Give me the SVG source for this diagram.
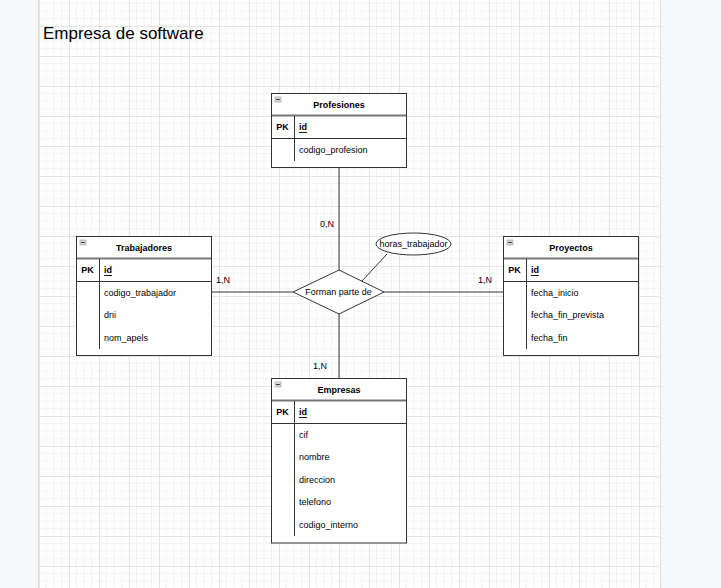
<svg xmlns="http://www.w3.org/2000/svg" width="721" height="588" viewBox="0 0 721 588">
  <defs>
    <pattern id="grid" patternUnits="userSpaceOnUse" x="39" y="-4" width="30" height="30">
      <rect width="30" height="30" fill="#ffffff"/>
      <path d="M7.5 0V30M15 0V30M22.5 0V30M0 7.5H30M0 15H30M0 22.5H30" stroke="#f3f3f3" stroke-width="1" fill="none"/>
      <path d="M0.5 0V30M0 0.5H30" stroke="#e4e4e4" stroke-width="1" fill="none"/>
    </pattern>
    <g id="collapse">
      <rect x="0" y="0" width="6" height="5" fill="#d8d8d8" stroke="#999" stroke-width="0.6"/>
      <path d="M1.2 2.5H4.8" stroke="#333" stroke-width="1"/>
    </g>
  </defs>
  <style>
    text { font-family: "Liberation Sans", Arial, Helvetica, sans-serif; fill: #000; }
    .title { font-size: 17px; }
    .hdr { font-size: 9px; font-weight: bold; text-anchor: middle; dominant-baseline: central; }
    .pk { font-size: 9px; font-weight: bold; text-anchor: middle; dominant-baseline: central; }
    .key { font-size: 9px; font-weight: bold; text-decoration: underline; dominant-baseline: central; }
    .attr { font-size: 9px; dominant-baseline: central; }
    .lbl { font-size: 9px; }
    .mid { font-size: 9px; text-anchor: middle; dominant-baseline: central; }
    .box { fill: #ffffff; stroke: #333333; stroke-width: 1; }
    .hline { stroke: #777777; stroke-width: 2; }
    .rline { stroke: #333333; stroke-width: 1; }
    .div { stroke: #333333; stroke-width: 1; }
    .edge { stroke: #333333; stroke-width: 1; fill: none; }
  </style>

  <!-- canvas and page -->
  <rect x="0" y="0" width="721" height="588" fill="#f7f8fa"/>
  <rect x="39" y="0" width="621" height="588" fill="url(#grid)"/>
  <path d="M38.5 0V588M660.5 0V588" stroke="#dddddd" stroke-width="1"/>

  <text class="title" x="43" y="39">Empresa de software</text>

  <!-- connectors -->
  <g id="connectors">
    <path class="edge" d="M339 167.5V270"/>
    <path class="edge" d="M339 314V378"/>
    <path class="edge" d="M211 292H293"/>
    <path class="edge" d="M384 292H503"/>
    <path class="edge" d="M387 254L362 281"/>
    <text class="lbl" x="320" y="227">0,N</text>
    <text class="lbl" x="216" y="283">1,N</text>
    <text class="lbl" x="478" y="283">1,N</text>
    <text class="lbl" x="313" y="369">1,N</text>
  </g>

  <!-- relationship -->
  <g id="rel-forman">
    <polygon class="box" points="293,292 339,270 384,292 339,314"/>
    <text class="mid" x="338.5" y="292">Forman parte de</text>
  </g>

  <g id="attr-horas">
    <ellipse class="box" cx="413.5" cy="244" rx="37.5" ry="11"/>
    <text class="mid" x="413.5" y="244">horas_trabajador</text>
  </g>

  <!-- Profesiones -->
  <g id="profesiones">
    <rect class="box" x="271.5" y="93.5" width="135" height="74"/>
    <line class="hline" x1="272" y1="115.5" x2="406" y2="115.5"/>
    <line class="rline" x1="272" y1="138.5" x2="406" y2="138.5"/>
    <line class="div" x1="294.5" y1="116" x2="294.5" y2="161"/>
    <use href="#collapse" x="275" y="97"/>
    <text class="hdr" x="339" y="104.5">Profesiones</text>
    <text class="pk" x="282.5" y="127">PK</text>
    <text class="key" x="299" y="127">id</text>
    <text class="attr" x="299" y="149.5">codigo_profesion</text>
  </g>

  <!-- Trabajadores -->
  <g id="trabajadores">
    <rect class="box" x="76.5" y="236.5" width="135" height="119"/>
    <line class="hline" x1="77" y1="258.5" x2="211" y2="258.5"/>
    <line class="rline" x1="77" y1="281.5" x2="211" y2="281.5"/>
    <line class="div" x1="99.5" y1="259" x2="99.5" y2="349"/>
    <use href="#collapse" x="80" y="240"/>
    <text class="hdr" x="144" y="247.5">Trabajadores</text>
    <text class="pk" x="87.5" y="270">PK</text>
    <text class="key" x="104" y="270">id</text>
    <text class="attr" x="104" y="292.5">codigo_trabajador</text>
    <text class="attr" x="104" y="315">dni</text>
    <text class="attr" x="104" y="337.5">nom_apels</text>
  </g>

  <!-- Proyectos -->
  <g id="proyectos">
    <rect class="box" x="503.5" y="236.5" width="135" height="119"/>
    <line class="hline" x1="504" y1="258.5" x2="638" y2="258.5"/>
    <line class="rline" x1="504" y1="281.5" x2="638" y2="281.5"/>
    <line class="div" x1="526.5" y1="259" x2="526.5" y2="349"/>
    <use href="#collapse" x="507" y="240"/>
    <text class="hdr" x="571" y="247.5">Proyectos</text>
    <text class="pk" x="514.5" y="270">PK</text>
    <text class="key" x="531" y="270">id</text>
    <text class="attr" x="531" y="292.5">fecha_inicio</text>
    <text class="attr" x="531" y="315">fecha_fin_prevista</text>
    <text class="attr" x="531" y="337.5">fecha_fin</text>
  </g>

  <!-- Empresas -->
  <g id="empresas">
    <rect class="box" x="271.5" y="378.5" width="135" height="164.5"/>
    <line class="hline" x1="272" y1="400.5" x2="406" y2="400.5"/>
    <line class="rline" x1="272" y1="423.5" x2="406" y2="423.5"/>
    <line class="div" x1="294.5" y1="401" x2="294.5" y2="536"/>
    <use href="#collapse" x="275" y="382"/>
    <text class="hdr" x="339" y="389.5">Empresas</text>
    <text class="pk" x="282.5" y="412">PK</text>
    <text class="key" x="299" y="412">id</text>
    <text class="attr" x="299" y="434.5">cif</text>
    <text class="attr" x="299" y="457">nombre</text>
    <text class="attr" x="299" y="479.5">direccion</text>
    <text class="attr" x="299" y="502">telefono</text>
    <text class="attr" x="299" y="524.5">codigo_interno</text>
  </g>
</svg>
